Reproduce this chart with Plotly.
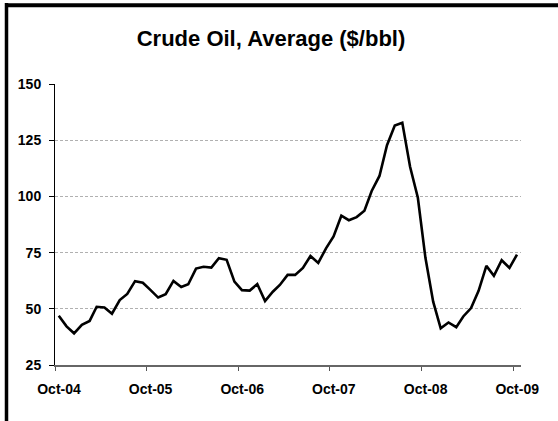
import plotly.graph_objects as go

months = [
    "2004-10", "2004-11", "2004-12",
    "2005-01", "2005-02", "2005-03", "2005-04", "2005-05", "2005-06",
    "2005-07", "2005-08", "2005-09", "2005-10", "2005-11", "2005-12",
    "2006-01", "2006-02", "2006-03", "2006-04", "2006-05", "2006-06",
    "2006-07", "2006-08", "2006-09", "2006-10", "2006-11", "2006-12",
    "2007-01", "2007-02", "2007-03", "2007-04", "2007-05", "2007-06",
    "2007-07", "2007-08", "2007-09", "2007-10", "2007-11", "2007-12",
    "2008-01", "2008-02", "2008-03", "2008-04", "2008-05", "2008-06",
    "2008-07", "2008-08", "2008-09", "2008-10", "2008-11", "2008-12",
    "2009-01", "2009-02", "2009-03", "2009-04", "2009-05", "2009-06",
    "2009-07", "2009-08", "2009-09", "2009-10",
]
price = [
    46.9, 42.2, 39.1,
    42.9, 44.6, 50.9, 50.6, 47.8, 53.9,
    56.6, 62.3, 61.6, 58.4, 55.0, 56.5,
    62.4, 59.7, 60.9, 67.9, 68.7, 68.3,
    72.5, 71.8, 62.1, 58.3, 58.1, 61.0,
    53.4, 57.6, 60.6, 65.1, 65.1, 68.2,
    73.5, 70.4, 76.9, 82.2, 91.4, 89.4,
    90.8, 93.6, 102.4, 109.1, 122.8, 131.5,
    132.8, 113.2, 99.4, 72.8, 53.2, 41.3,
    43.9, 41.8, 46.6, 50.3, 58.0, 69.1,
    64.7, 71.6, 68.2, 74.1,
]
tick_dates = ["2004-10-01", "2005-10-01", "2006-10-01", "2007-10-01", "2008-10-01", "2009-10-01"]
tick_labels = ["Oct-04", "Oct-05", "Oct-06", "Oct-07", "Oct-08", "Oct-09"]
y_ticks = [25, 50, 75, 100, 125, 150]

x_dates = [m + "-16" for m in months]

fig = go.Figure()
fig.add_trace(go.Scatter(
    x=x_dates, y=price, mode="lines",
    line=dict(color="#000000", width=2.6),
    showlegend=False, hoverinfo="x+y",
))

W, H = 558, 421
L, R, T, B = 55, 37, 84, 56
pw, ph = W - L - R, H - T - B


def px_x(px):
    return (px - L) / pw


def px_y(py):
    return (H - B - py) / ph


fig.update_layout(
    width=W, height=H,
    margin=dict(l=L, r=R, t=T, b=B),
    paper_bgcolor="white", plot_bgcolor="white",
    font=dict(family="Liberation Sans, Arial, sans-serif", color="#000000"),
    title=dict(
        text="<b>Crude Oil, Average ($/bbl)</b>",
        x=271 / W, xanchor="center", xref="container",
        y=1 - 38 / H, yanchor="middle", yref="container",
        font=dict(size=22, color="#000000"),
    ),
    xaxis=dict(
        type="date",
        range=["2004-10-01", "2009-11-01"],
        tickmode="array", tickvals=tick_dates, ticktext=tick_labels,
        ticks="outside", ticklen=4, tickwidth=1, tickcolor="#555555",
        showline=True, linecolor="#666666", linewidth=1.5,
        showgrid=False, zeroline=False,
        tickfont=dict(size=14, color="#000000", weight="bold"),
        ticklabelshift=4, ticklabelstandoff=6,
    ),
    yaxis=dict(
        range=[25, 150],
        tickmode="array", tickvals=y_ticks,
        ticks="outside", ticklen=5, tickwidth=1, tickcolor="#000000",
        showline=True, linecolor="#000000", linewidth=1,
        showgrid=True, gridcolor="#b0b0b0", griddash="3px,2px", gridwidth=1,
        zeroline=False,
        tickfont=dict(size=14, color="#000000", weight="bold"),
        ticklabelstandoff=5,
    ),
)

# outer frame (left and top edges)
fig.add_shape(type="line", xref="paper", yref="paper",
              x0=px_x(6.5), x1=px_x(6.5), y0=px_y(H + 2), y1=px_y(3),
              line=dict(color="#000000", width=3.5))
fig.add_shape(type="line", xref="paper", yref="paper",
              x0=px_x(5), x1=px_x(W + 2), y0=px_y(5.3), y1=px_y(5.3),
              line=dict(color="#000000", width=4))

fig.write_html("out.html", config={"displayModeBar": False},
               post_script="document.body.style.margin='0px';")
